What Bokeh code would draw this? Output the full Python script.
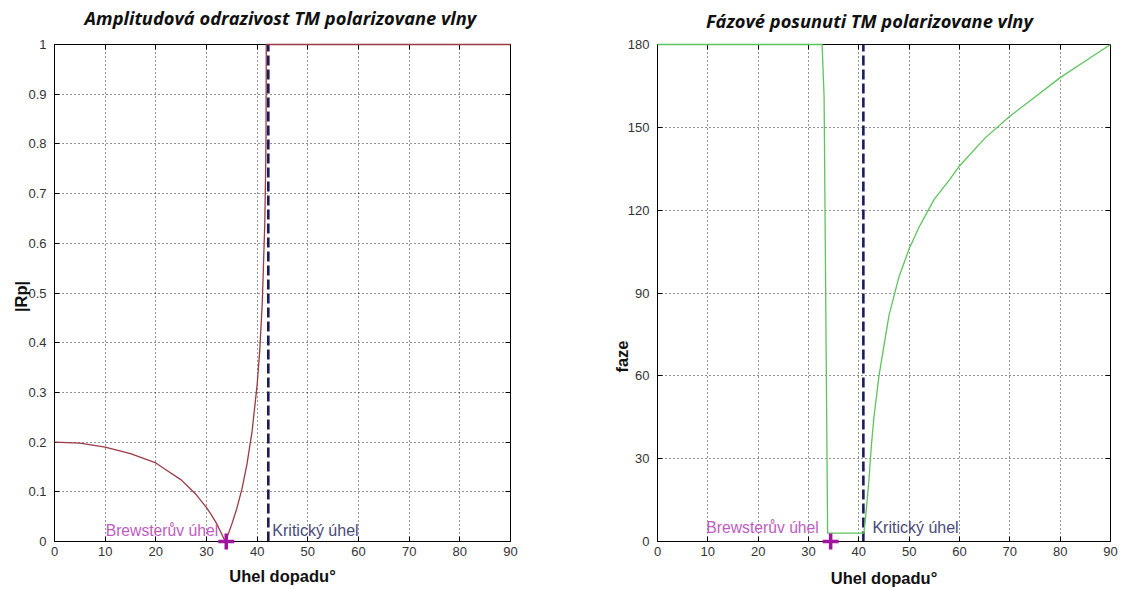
from bokeh.plotting import figure
from bokeh.layouts import row
from bokeh.models import LinearAxis, FixedTicker, CustomJSTickFormatter
from bokeh.core.properties import value
from bokeh.embed import file_html
from bokeh.resources import INLINE

# Reflection of a TM-polarised wave (glass -> air)
# |Rp| against angle of incidence
rp_angle = [0, 5, 10, 15, 20, 22.5, 25, 26.5, 28, 30, 31, 32, 33, 33.7, 34, 35, 36, 37, 38,
            39, 40, 40.5, 41, 41.5, 41.7, 41.75, 41.8, 50, 60, 70, 80, 90]
rp_value = [0.200, 0.198, 0.190, 0.177, 0.158, 0.141, 0.124, 0.109, 0.094, 0.068, 0.053,
            0.036, 0.015, 0.0, 0.007, 0.035, 0.067, 0.106, 0.156, 0.222, 0.316, 0.383,
            0.478, 0.638, 0.765, 0.82, 1.0, 1.0, 1.0, 1.0, 1.0, 1.0]

# phase shift (degrees) against angle of incidence
ph_angle = [0, 10, 20, 30, 32.7, 33.1, 33.8, 35, 38, 41.0, 41.3, 41.6, 42, 42.5, 43, 44, 45,
            46, 48, 50, 52, 55, 58, 60, 65, 70, 75, 80, 85, 90]
ph_value = [180, 180, 180, 180, 180, 161, 3, 3, 3, 3, 8, 14, 22, 35, 45, 60, 71,
            82, 96, 106, 114, 124, 131, 136, 146, 154, 161, 168, 174, 180]

# special angles marked on each chart: [amplitude chart, phase chart]
brewster_angle = [33.9, 34.4]
critical_angle = [42.2, 40.9]

x_ticks = [0, 10, 20, 30, 40, 50, 60, 70, 80, 90]
rp_ticks = [0, 0.1, 0.2, 0.3, 0.4, 0.5, 0.6, 0.7, 0.8, 0.9, 1]
ph_ticks = [0, 30, 60, 90, 120, 150, 180]

TICK_FONT = "Liberation Sans"
LABEL_FONT = "Liberation Sans"
TITLE_FONT = "Open Sans"


def make_panel(width, borders, y_range, y_ticks):
    left, right, top, bottom = borders
    p = figure(width=width, height=589, x_range=(0, 90), y_range=y_range,
               output_backend="svg", toolbar_location=None,
               min_border_left=left, min_border_right=right,
               min_border_top=top, min_border_bottom=bottom)
    p.background_fill_color = "white"
    p.border_fill_color = "white"
    p.outline_line_color = "black"
    p.outline_line_width = 1

    p.xaxis.ticker = FixedTicker(ticks=x_ticks)
    p.yaxis.ticker = FixedTicker(ticks=y_ticks)
    p.yaxis.formatter = CustomJSTickFormatter(code="return String(Math.round(tick*10)/10)")
    for ax in (p.xaxis, p.yaxis):
        ax.major_tick_in = 5
        ax.major_tick_out = 0
        ax.minor_tick_in = 0
        ax.minor_tick_out = 0
        ax.axis_line_color = "black"
        ax.major_tick_line_color = "black"
        ax.major_label_text_font = TICK_FONT
        ax.major_label_text_font_size = "13px"
        ax.major_label_text_color = "#333333"
    p.xaxis.major_label_standoff = 5
    p.yaxis.major_label_standoff = 8

    # tick marks (no labels) on the top and right edges of the box
    blank = CustomJSTickFormatter(code="return ''")
    top_ax = LinearAxis(ticker=FixedTicker(ticks=x_ticks), formatter=blank,
                        major_tick_in=5, major_tick_out=0, minor_tick_in=0, minor_tick_out=0,
                        major_label_standoff=0, axis_line_color="black")
    right_ax = LinearAxis(ticker=FixedTicker(ticks=y_ticks), formatter=blank,
                          major_tick_in=5, major_tick_out=0, minor_tick_in=0, minor_tick_out=0,
                          major_label_standoff=0, axis_line_color="black")
    p.add_layout(top_ax, "above")
    p.add_layout(right_ax, "right")

    p.grid.grid_line_color = "black"
    p.grid.grid_line_alpha = 0.85
    p.grid.grid_line_dash = "1 3"
    p.grid.grid_line_width = 1
    return p


def add_text(p, x, y, text, color, size, font=LABEL_FONT, style="normal",
             align="left", angle=0.0):
    # text glyphs drawn on the overlay level so they may sit outside the plot box
    p.text(x=[x], y=[y], text=[text], text_color=color, text_font=value(font),
           text_font_size=size, text_font_style=style, text_align=align,
           text_baseline="middle", angle=angle, level="overlay")


# ---- amplitude chart ----
amp = make_panel(560, (54, 50, 44, 46), (0, 1), rp_ticks)
amp.line(rp_angle, rp_value, line_color="#9a3a44", line_width=1.3, level="overlay")
amp.segment(x0=[critical_angle[0]], y0=[0], x1=[critical_angle[0]], y1=[1],
            line_color="#1c1c5c", line_width=2.6, line_dash="10 4")
amp.scatter([brewster_angle[0]], [0], marker="cross", size=16, line_width=3.5,
            line_color="#a0149f", level="overlay")
add_text(amp, 10.1, 0.022, "Brewsterův úhel", "#c05cc0", "15.7px")
add_text(amp, 43.0, 0.022, "Kritický úhel", "#4a4a78", "16px")
add_text(amp, 44.6, 1.054, "Amplitudová odrazivost TM polarizovane vlny", "#111111", "18.3px",
         font=TITLE_FONT, style="bold italic", align="center")
add_text(amp, 45, -0.070, "Uhel dopadu°", "#111111", "16.5px", style="bold", align="center")
add_text(amp, -6.7, 0.493, "|Rp|", "#111111", "16.5px", style="bold", align="center",
         angle=1.5708)

# ---- phase chart ----
ph = make_panel(566, (97, 16, 41, 48), (0, 180), ph_ticks)
ph.line(ph_angle, ph_value, line_color="#5cc45c", line_width=1.3, level="overlay")
ph.segment(x0=[critical_angle[1]], y0=[0], x1=[critical_angle[1]], y1=[180],
           line_color="#1c1c5c", line_width=2.6, line_dash="10 4")
ph.scatter([brewster_angle[1]], [0], marker="cross", size=16, line_width=3.5,
           line_color="#a0149f", level="overlay")
add_text(ph, 9.7, 5, "Brewsterův úhel", "#c05cc0", "15.7px")
add_text(ph, 42.7, 5, "Kritický úhel", "#4a4a78", "16px")
add_text(ph, 42.1, 188.6, "Fázové posunuti TM polarizovane vlny", "#111111", "18.3px",
         font=TITLE_FONT, style="bold italic", align="center")
add_text(ph, 45, -13.3, "Uhel dopadu°", "#111111", "16.5px", style="bold", align="center")
add_text(ph, -7.0, 67, "faze", "#111111", "16.5px", style="bold", align="center",
         angle=1.5708)

layout = row(amp, ph)
open("out.html", "w").write(file_html(layout, INLINE))
